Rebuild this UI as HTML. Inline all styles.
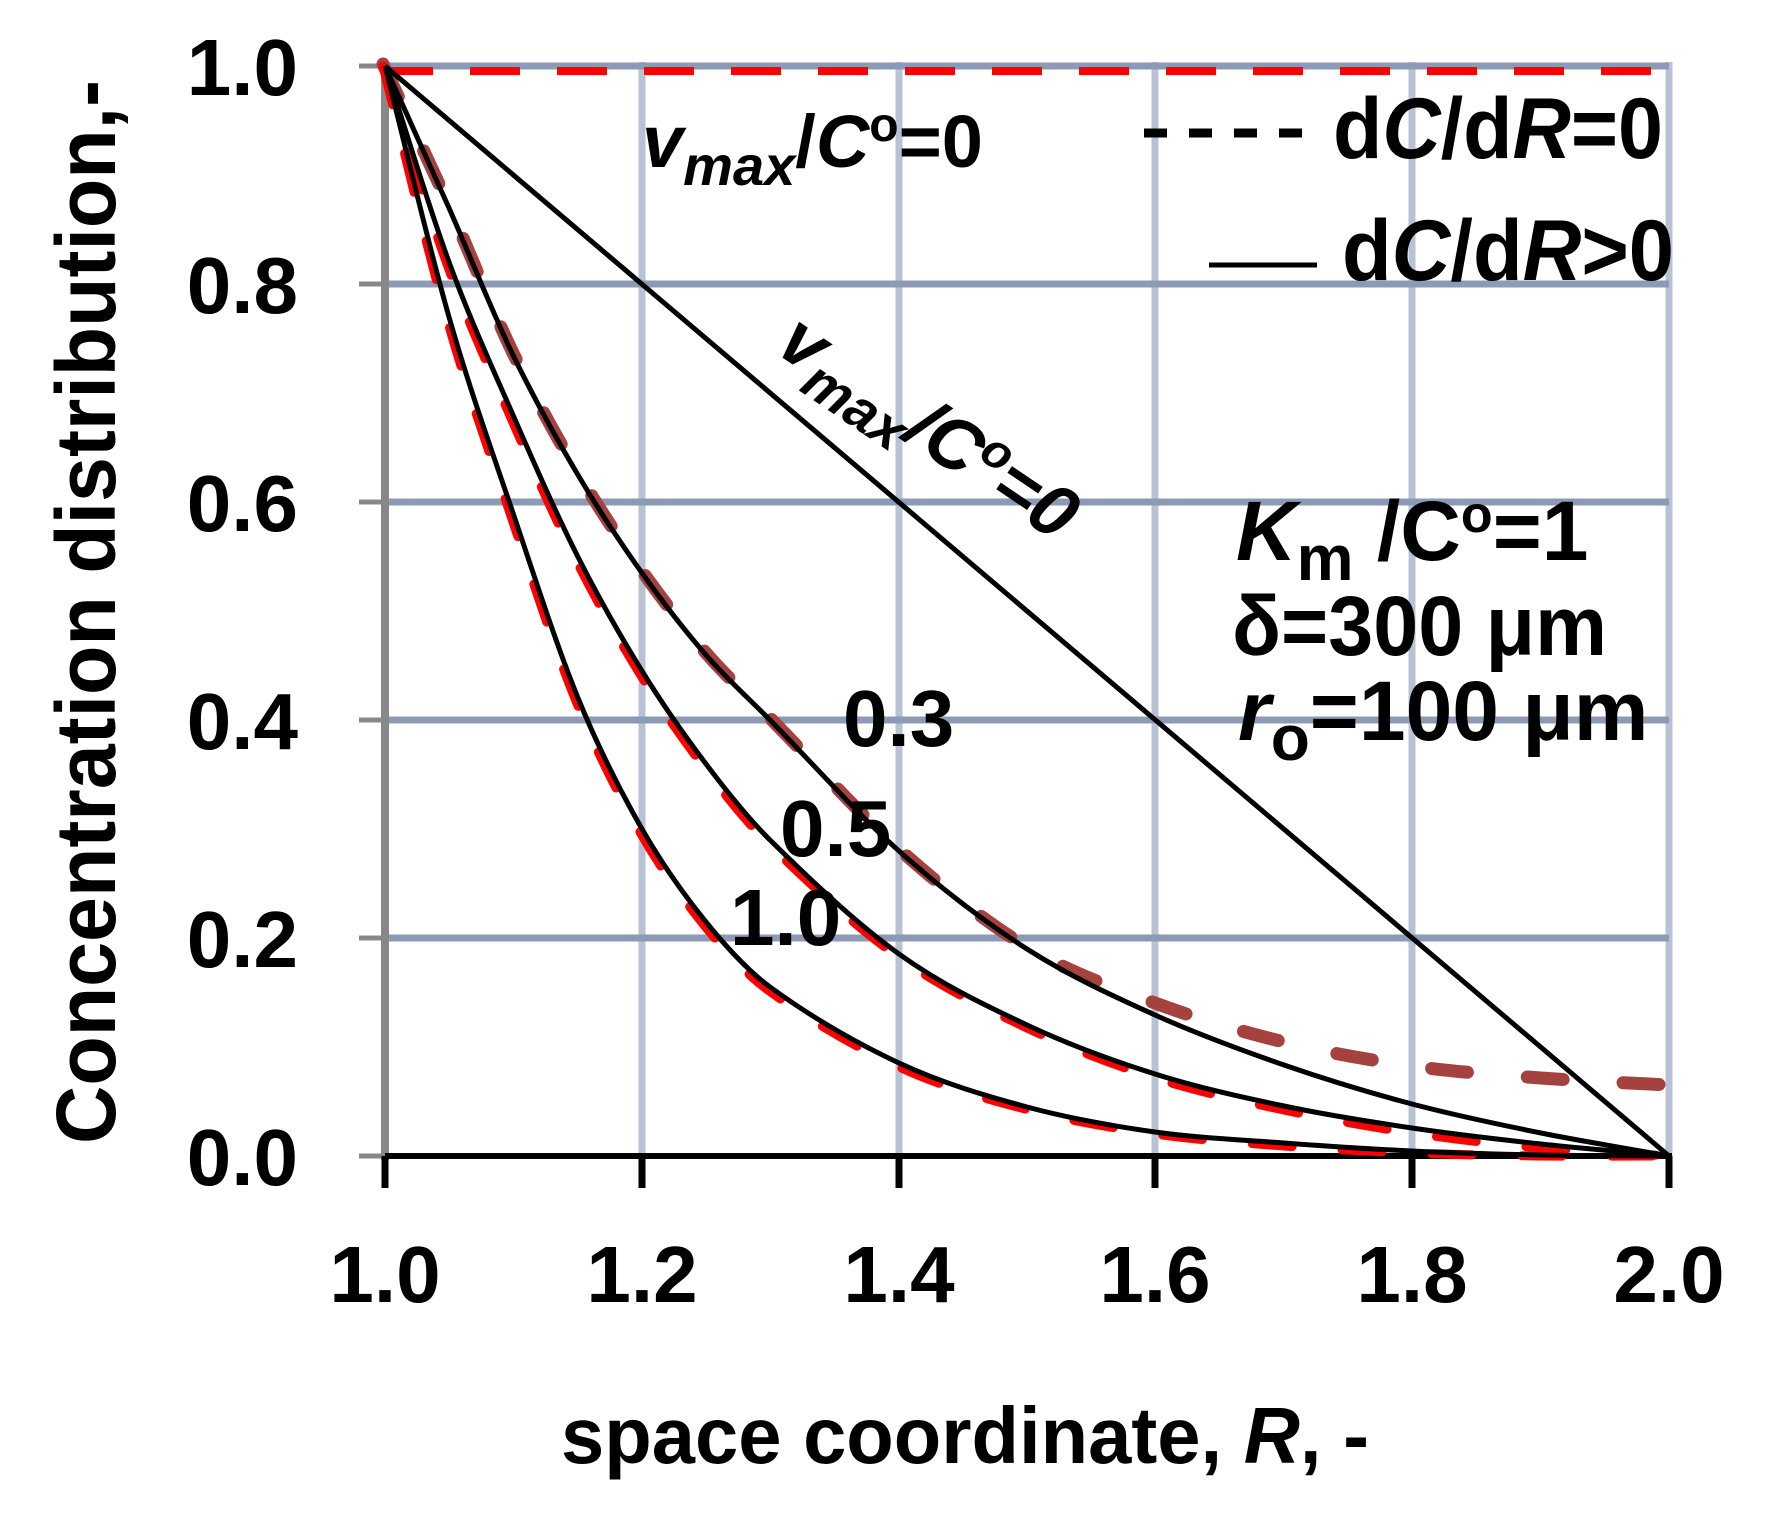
<!DOCTYPE html>
<html><head><meta charset="utf-8"><style>
html,body{margin:0;padding:0;background:#fff;}
svg{display:block;}
text{font-family:"Liberation Sans",sans-serif;font-weight:bold;fill:#000;}
</style></head><body>
<svg id="chart" width="1789" height="1534" viewBox="0 0 1789 1534" xmlns="http://www.w3.org/2000/svg">
<g stroke="#b8c2d5" stroke-width="7">
<line x1="642" y1="62" x2="642" y2="1156"/>
<line x1="899" y1="62" x2="899" y2="1156"/>
<line x1="1155" y1="62" x2="1155" y2="1156"/>
<line x1="1412" y1="62" x2="1412" y2="1156"/>
<line x1="1669" y1="62" x2="1669" y2="1156"/>
</g>
<g stroke="#8c9ab6" stroke-width="7">
<line x1="385" y1="66" x2="1669" y2="66"/>
<line x1="385" y1="284" x2="1669" y2="284"/>
<line x1="385" y1="502" x2="1669" y2="502"/>
<line x1="385" y1="720" x2="1669" y2="720"/>
<line x1="385" y1="938" x2="1669" y2="938"/>
</g>
<line x1="383" y1="71" x2="1669" y2="71" stroke="#ff0000" stroke-width="8" stroke-dasharray="50 37"/>
<line x1="385" y1="62" x2="385" y2="1160" stroke="#888" stroke-width="8"/>
<g stroke="#888" stroke-width="5">
<line x1="359" y1="66" x2="385" y2="66"/><line x1="359" y1="284" x2="385" y2="284"/>
<line x1="359" y1="502" x2="385" y2="502"/><line x1="359" y1="720" x2="385" y2="720"/>
<line x1="359" y1="938" x2="385" y2="938"/><line x1="359" y1="1156" x2="385" y2="1156"/>
</g>
<line x1="385" y1="1156" x2="1672" y2="1156" stroke="#000" stroke-width="6"/>
<g stroke="#000" stroke-width="7">
<line x1="385" y1="1156" x2="385" y2="1188"/><line x1="642" y1="1156" x2="642" y2="1188"/>
<line x1="899" y1="1156" x2="899" y2="1188"/><line x1="1155" y1="1156" x2="1155" y2="1188"/>
<line x1="1412" y1="1156" x2="1412" y2="1188"/><line x1="1669" y1="1156" x2="1669" y2="1188"/>
</g>
<g fill="none" stroke-linejoin="round">
<polyline class="s" stroke="#a5413e" stroke-width="13" stroke-linecap="round" stroke-dasharray="36 60" points="383,64 449,206 513,353 578,473 642,571 706,653 770,718 899,849 1027,947 1155,1003 1284,1042 1412,1066 1541,1078 1669,1085"/>
<polyline class="s" stroke="#ff0000" stroke-width="9" stroke-linecap="round" stroke-dasharray="40 50" points="383,66 447,264 511,418 576,560 640,674 704,767 768,843 897,956 1025,1027 1155,1078 1284,1110 1412,1133 1541,1148 1669,1156"/>
<polyline class="s" stroke="#ff0000" stroke-width="9" stroke-linecap="round" stroke-dasharray="40 50" points="383,66 447,319 511,516 576,701 640,832 704,925 768,990 897,1066 1025,1109 1155,1134 1284,1146 1412,1153 1541,1156 1669,1156"/>
<g stroke="#000" stroke-width="5">
<line x1="385" y1="66" x2="1669" y2="1156"/>
<polyline class="s" points="385,66 449,208 513,355 578,475 642,573 706,655 770,720 899,851 1027,949 1155,1015 1284,1065 1412,1104 1541,1133 1669,1156"/>
<polyline class="s" points="385,66 449,262 513,415 578,557 642,671 706,764 770,840 899,954 1027,1025 1155,1074 1284,1106 1412,1128 1541,1144 1669,1156"/>
<polyline class="s" points="385,66 449,317 513,513 578,698 642,829 706,922 770,987 899,1063 1027,1107 1155,1132 1284,1143 1412,1151 1541,1155 1669,1156"/>
</g>
</g>
<g font-size="80" text-anchor="end">
<text x="298" y="95">1.0</text>
<text x="298" y="313">0.8</text>
<text x="298" y="531">0.6</text>
<text x="298" y="749">0.4</text>
<text x="298" y="967">0.2</text>
<text x="298" y="1185">0.0</text>
</g>
<g font-size="80" text-anchor="middle">
<text x="385" y="1302">1.0</text>
<text x="642" y="1302">1.2</text>
<text x="899" y="1302">1.4</text>
<text x="1155" y="1302">1.6</text>
<text x="1412" y="1302">1.8</text>
<text x="1669" y="1302">2.0</text>
</g>
<text x="561" y="1463" font-size="80" textLength="808" lengthAdjust="spacingAndGlyphs">space coordinate, <tspan font-style="italic">R</tspan>, -</text>
<text transform="translate(115,1144) rotate(-90)" font-size="84" textLength="1064" lengthAdjust="spacingAndGlyphs">Concentration distribution,-</text>
<line x1="1144" y1="133" x2="1306" y2="133" stroke="#000" stroke-width="9" stroke-dasharray="23 22"/>
<text x="1333" y="158" font-size="86" textLength="330" lengthAdjust="spacingAndGlyphs">d<tspan font-style="italic">C</tspan>/d<tspan font-style="italic">R</tspan>=0</text>
<line x1="1209" y1="265" x2="1317" y2="265" stroke="#000" stroke-width="5"/>
<text x="1342" y="280" font-size="86" textLength="332" lengthAdjust="spacingAndGlyphs">d<tspan font-style="italic">C</tspan>/d<tspan font-style="italic">R</tspan>&gt;0</text>
<text x="642" y="167" font-size="74"><tspan font-style="italic">v</tspan><tspan font-style="italic" font-size="56" dy="18">max</tspan><tspan dy="-18">/</tspan><tspan font-style="italic">C</tspan><tspan font-size="48" dy="-26">o</tspan><tspan dy="26">=0</tspan></text>
<text transform="translate(774,352) rotate(34)" font-size="74" font-style="italic"><tspan>v</tspan><tspan font-size="56" dy="18">max</tspan><tspan dy="-18">/C</tspan><tspan font-size="48" dy="-26">o</tspan><tspan dy="26">=0</tspan></text>
<text x="1236" y="560" font-size="84"><tspan font-style="italic">K</tspan><tspan font-size="64" dy="20">m</tspan><tspan dy="-20"> /C</tspan><tspan font-size="52" dy="-28">o</tspan><tspan dy="28">=1</tspan></text>
<text x="1232" y="655" font-size="84" textLength="375" lengthAdjust="spacingAndGlyphs">δ=300 μm</text>
<text x="1238" y="740" font-size="84"><tspan font-style="italic">r</tspan><tspan font-size="64" dy="20">o</tspan><tspan dy="-20">=100 μm</tspan></text>
<text x="843" y="746" font-size="80">0.3</text>
<text x="780" y="856" font-size="80">0.5</text>
<text x="730" y="945" font-size="80">1.0</text>
</svg>
<script>
(function(){
var NS="http://www.w3.org/2000/svg";
var pls=document.querySelectorAll("polyline.s");
for(var i=0;i<pls.length;i++){
var pl=pls[i];
var P=pl.getAttribute("points").trim().split(/\s+/).map(function(s){var a=s.split(",");return [+a[0],+a[1]];});
var n=P.length,m=[];
for(var k=0;k<n;k++){
var a=P[k>0?k-1:0],b=P[k<n-1?k+1:n-1];
m.push((b[1]-a[1])/(b[0]-a[0]));
}
var d="M"+P[0][0]+","+P[0][1];
for(var k=0;k<n-1;k++){
var dx=(P[k+1][0]-P[k][0])/3;
d+=" C"+(P[k][0]+dx).toFixed(1)+","+(P[k][1]+m[k]*dx).toFixed(1)+" "+(P[k+1][0]-dx).toFixed(1)+","+(P[k+1][1]-m[k+1]*dx).toFixed(1)+" "+P[k+1][0]+","+P[k+1][1];
}
var p=document.createElementNS(NS,"path");
for(var j=0;j<pl.attributes.length;j++){var at=pl.attributes[j];if(at.name!=="points"&&at.name!=="class")p.setAttribute(at.name,at.value);}
p.setAttribute("d",d);
pl.parentNode.replaceChild(p,pl);
}
})();
</script>
</body></html>
